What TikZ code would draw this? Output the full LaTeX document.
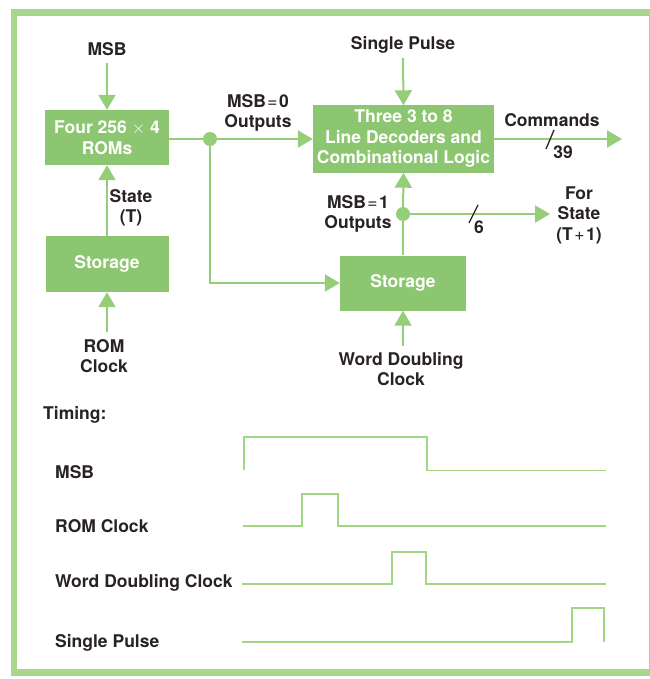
\documentclass[tikz,border=0pt]{standalone}
\usepackage{fontspec}
\setmainfont{TeX Gyre Heros}
\usetikzlibrary{arrows.meta}
\definecolor{boxgreen}{RGB}{141,198,112}
\definecolor{linegreen}{RGB}{150,205,120}
\definecolor{framegreen}{RGB}{168,214,140}
\definecolor{wavegreen}{RGB}{160,214,132}
\definecolor{ink}{RGB}{40,34,38}
\newcommand{\myeq}{\hspace{1.5pt}{\mdseries =}\hspace{1.5pt}}
\tikzset{
  blk/.style={fill=boxgreen, draw=none, text=white, font=\fontsize{17.5}{20.5}\selectfont\bfseries, align=center, inner sep=0pt},
  lbl/.style={text=ink, font=\fontsize{17.5}{20.5}\selectfont\bfseries, align=center, inner sep=0pt},
  tlbl/.style={lbl, anchor=west},
  conn/.style={draw=linegreen, line width=2pt},
  arr/.style={conn, -{Triangle[length=15pt,width=17pt]}},
  wave/.style={draw=wavegreen, line width=1.8pt},
  dotn/.style={circle, fill=linegreen, minimum size=14pt, inner sep=0pt}
}
\begin{document}
\begin{tikzpicture}[x=1pt,y=-1pt]
\useasboundingbox (0,0) rectangle (649,679);
% frame
\draw[framegreen, line width=6.5pt] (14,12.5) rectangle (652,672.5);
% blocks
\node[blk, minimum width=124pt, minimum height=55pt] (rom) at (107,137.5) {Four 256 $\times$ 4\\ROMs};
\node[blk, minimum width=123pt, minimum height=56pt] (st1) at (107,264) {Storage};
\node[blk, minimum width=181pt, minimum height=67pt] (dec) at (403.5,139) {Three 3 to 8\\Line Decoders and\\Combinational Logic};
\node[blk, minimum width=126pt, minimum height=55pt] (st2) at (403,283) {Storage};
% dots and coordinates
\node[dotn] (d1) at (210,139) {};
\node[dotn] (d2) at (403,214) {};
\coordinate (msbtail) at (107,63);
\coordinate (sptail) at (403,58);
\coordinate (romclktail) at (107,332);
\coordinate (wdctail) at (403,346);
\coordinate (bend) at (210,283);
\coordinate (cmdtip) at (622,139);
\coordinate (fortip) at (550,214);
% labels
\node[lbl] (lmsb) at (107,49) {MSB};
\node[lbl] (lsp) at (403,45) {Single Pulse};
\node[lbl] (lmsb0) at (258,113) {MSB\myeq 0\\Outputs};
\node[lbl] (lstate) at (131,208) {State\\(T)};
\node[lbl] (lmsb1) at (358,214) {MSB\myeq 1\\Outputs};
\node[lbl] (lcmd) at (552,120) {Commands};
\node[lbl] (l39) at (563,152) {39};
\node[lbl] (l6) at (479,227) {6};
\node[lbl] (lfor) at (579,215) {For\\State\\(T\hspace{1.5pt}{\mdseries +}\hspace{1.5pt}1)};
\node[lbl] (lromclk) at (104,356) {ROM\\Clock};
\node[lbl] (lwdc) at (401,369) {Word Doubling\\Clock};
% connectors
\draw[arr] (msbtail) -- (rom.north);
\draw[arr] (sptail) -- (dec.north);
\draw[arr] (st1.north) -- (rom.south);
\draw[arr] (romclktail) -- (st1.south);
\draw[conn] (rom.east |- d1) -- (d1);
\draw[arr] (d1) -- (dec.west |- d1);
\draw[arr] (d1) -- (bend) -- (st2.west |- bend);
\draw[conn] (st2.north) -- (d2);
\draw[arr] (d2) -- (dec.south);
\draw[arr] (d2) -- (fortip);
\draw[arr] (dec.east |- cmdtip) -- (cmdtip);
\draw[arr] (wdctail) -- (st2.south);
% bus slashes
\draw[draw=ink, line width=1.3pt] (554,130) -- (546,149);
\draw[draw=ink, line width=1.3pt] (478,205) -- (469,223);
% timing
\node[tlbl] (ltim) at (43,415) {Timing:};
\node[tlbl] (tmsb) at (55,472) {MSB};
\node[tlbl] (trom) at (55,526) {ROM Clock};
\node[tlbl] (twdc) at (55,583) {Word Doubling Clock};
\node[tlbl] (tsp) at (55,643) {Single Pulse};
\draw[wave] (244,470) -- (244,437) -- (427,437) -- (427,470.5) -- (606,470.5);
\draw[wave] (243,526) -- (302,526) -- (302,494) -- (338,494) -- (338,526) -- (606,526);
\draw[wave] (242,584) -- (392,584) -- (392,552) -- (426,552) -- (426,584) -- (606,584);
\draw[wave] (242,642) -- (572,642) -- (572,608) -- (604,608) -- (604,642);
\end{tikzpicture}
\end{document}
